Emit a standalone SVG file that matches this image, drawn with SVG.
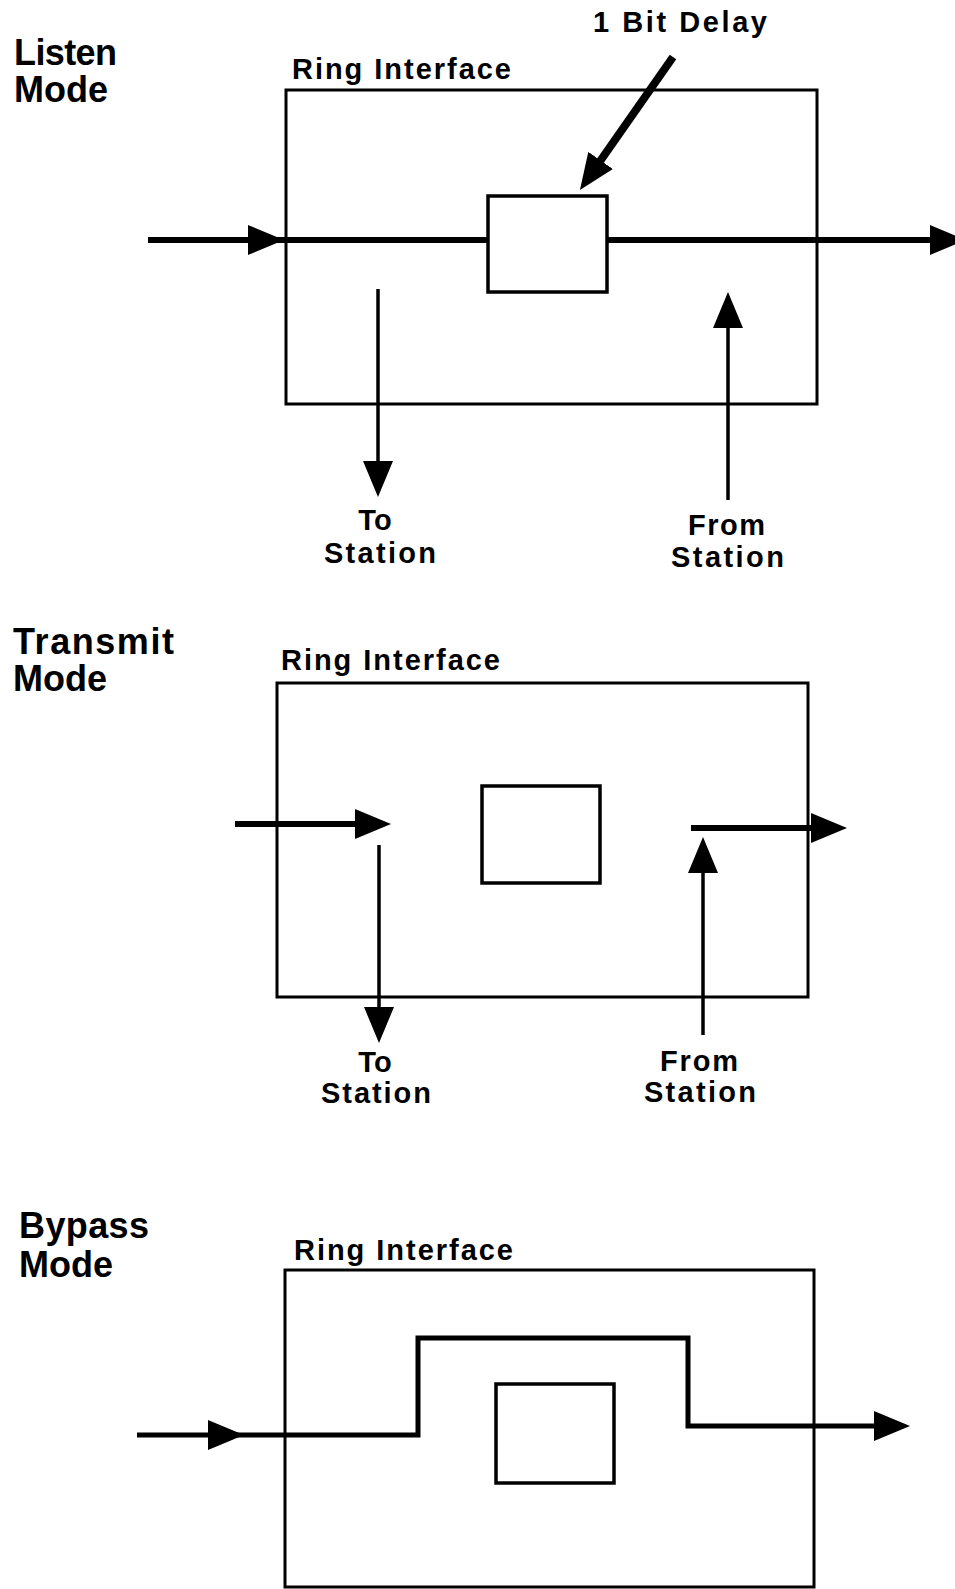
<svg xmlns="http://www.w3.org/2000/svg" width="955" height="1589" viewBox="0 0 955 1589">
<style>
  text { font-family: "Liberation Sans", Arial, sans-serif; font-weight: bold; fill: #000; }
  .title { font-size: 36px; }
  .ring { font-size: 29px; }
  .lbl { font-size: 29px; }
  .box { fill: none; stroke: #000; stroke-width: 3; }
  .delay { fill: none; stroke: #000; stroke-width: 3.5; }
  .thick { fill: none; stroke: #000; stroke-width: 6; stroke-linejoin: miter; }
  .mid { fill: none; stroke: #000; stroke-width: 5; stroke-linejoin: miter; }
  .thin { fill: none; stroke: #000; stroke-width: 3.5; }
</style>
<defs>
  <marker id="ah" viewBox="0 0 36 30" refX="8" refY="15" markerWidth="36" markerHeight="30" markerUnits="userSpaceOnUse" orient="auto">
    <path d="M0,0 L36,15 L0,30 Z" fill="#000"/>
  </marker>
  <marker id="ahMid" viewBox="0 0 36 30" refX="36" refY="15" markerWidth="36" markerHeight="30" markerUnits="userSpaceOnUse" orient="auto">
    <path d="M0,0 L36,15 L0,30 Z" fill="#000"/>
  </marker>
</defs>
<rect width="955" height="1589" fill="#fff"/>

<!-- Listen Mode -->
<g id="listen-title">
  <text class="title" x="14" y="65" textLength="103" lengthAdjust="spacing">Listen</text>
  <text class="title" x="14" y="102">Mode</text>
</g>
<g id="listen-ring">
  <rect class="box" x="286" y="90" width="531" height="314"/>
  <text class="ring" x="292" y="79" textLength="219" lengthAdjust="spacing">Ring Interface</text>
</g>
<g id="listen-delay">
  <rect class="delay" x="488" y="196" width="119" height="96"/>
</g>
<g id="listen-delay-label">
  <text class="lbl" x="593" y="32" font-size="27" textLength="174" lengthAdjust="spacing">1 Bit Delay</text>
</g>
<g id="listen-to-station">
  <text class="lbl" x="375" y="530" text-anchor="middle">To</text>
  <text class="lbl" x="324" y="563" textLength="112" lengthAdjust="spacing">Station</text>
</g>
<g id="listen-from-station">
  <text class="lbl" x="688" y="535" textLength="77" lengthAdjust="spacing">From</text>
  <text class="lbl" x="671" y="567" textLength="113" lengthAdjust="spacing">Station</text>
</g>

<!-- Transmit Mode -->
<g id="transmit-title">
  <text class="title" x="13" y="654" textLength="161" lengthAdjust="spacing">Transmit</text>
  <text class="title" x="13" y="691">Mode</text>
</g>
<g id="transmit-ring">
  <rect class="box" x="277" y="683" width="531" height="314"/>
  <text class="ring" x="281" y="670" textLength="219" lengthAdjust="spacing">Ring Interface</text>
</g>
<g id="transmit-delay">
  <rect class="delay" x="482" y="786" width="118" height="97"/>
</g>
<g id="transmit-to-station">
  <text class="lbl" x="375" y="1072" text-anchor="middle">To</text>
  <text class="lbl" x="321" y="1103" textLength="110" lengthAdjust="spacing">Station</text>
</g>
<g id="transmit-from-station">
  <text class="lbl" x="660" y="1071" textLength="78" lengthAdjust="spacing">From</text>
  <text class="lbl" x="644" y="1102" textLength="112" lengthAdjust="spacing">Station</text>
</g>

<!-- Bypass Mode -->
<g id="bypass-title">
  <text class="title" x="19" y="1238" textLength="130" lengthAdjust="spacing">Bypass</text>
  <text class="title" x="19" y="1277">Mode</text>
</g>
<g id="bypass-ring">
  <rect class="box" x="285" y="1270" width="529" height="317"/>
  <text class="ring" x="294" y="1260" textLength="219" lengthAdjust="spacing">Ring Interface</text>
</g>
<g id="bypass-delay">
  <rect class="delay" x="496" y="1384" width="118" height="99"/>
</g>

<!-- Connectors -->
<g id="connectors">
  <!-- Listen -->
  <path class="thick" d="M148,240 L284,240 L488,240" marker-mid="url(#ahMid)"/>
  <path class="thick" d="M607,240 L938,240" marker-end="url(#ah)"/>
  <path class="thin" d="M378,289 L378,469" marker-end="url(#ah)"/>
  <path class="thin" d="M728,500 L728,320" marker-end="url(#ah)"/>
  <path d="M673,57 L596,167" fill="none" stroke="#000" stroke-width="8" marker-end="url(#ah)"/>
  <!-- Transmit -->
  <path class="thick" d="M235,824 L363,824" marker-end="url(#ah)"/>
  <path class="thin" d="M379,845 L379,1015" marker-end="url(#ah)"/>
  <path class="thick" d="M691,828 L819,828" marker-end="url(#ah)"/>
  <path class="thin" d="M703,1035 L703,865" marker-end="url(#ah)"/>
  <!-- Bypass -->
  <path class="mid" d="M137,1435 L216,1435" marker-end="url(#ah)"/>
  <path class="mid" d="M210,1435 H418 V1338 H688 V1426 H882" marker-end="url(#ah)"/>
</g>
</svg>
